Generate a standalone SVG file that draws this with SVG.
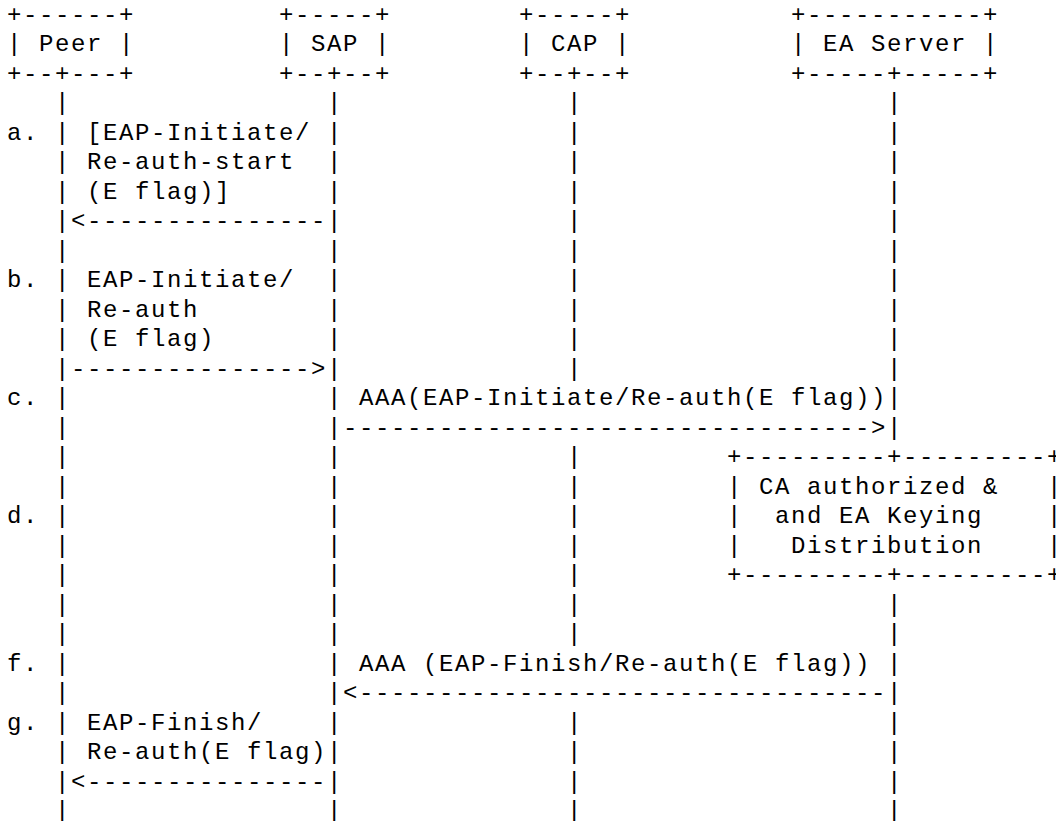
<svg xmlns="http://www.w3.org/2000/svg" width="1056" height="821" viewBox="0 0 1056 821" xml:space="preserve">
<style>
text { font-family: "Liberation Mono", "DejaVu Sans Mono", monospace; font-size: 24px; letter-spacing: 1.6px; fill: #000; white-space: pre; }
</style>
<rect x="0" y="0" width="1056" height="821" fill="#ffffff"/>
<g id="node-peer">
<text x="7" y="21.5">+------+</text>
<text x="7" y="51">| Peer |</text>
<text x="7" y="80.5">+--+---+</text>
</g>
<g id="node-sap">
<text x="279" y="21.5">+-----+</text>
<text x="279" y="51">| SAP |</text>
<text x="279" y="80.5">+--+--+</text>
</g>
<g id="node-cap">
<text x="519" y="21.5">+-----+</text>
<text x="519" y="51">| CAP |</text>
<text x="519" y="80.5">+--+--+</text>
</g>
<g id="node-ea-server">
<text x="791" y="21.5">+-----------+</text>
<text x="791" y="51">| EA Server |</text>
<text x="791" y="80.5">+-----+-----+</text>
</g>
<g id="node-ca-authorized">
<text x="727" y="464">+---------+---------+</text>
<text x="727" y="493.5">| CA authorized &amp;   |</text>
<text x="727" y="523">|  and EA Keying    |</text>
<text x="727" y="552.5">|   Distribution    |</text>
<text x="727" y="582">+---------+---------+</text>
</g>
<g id="connectors">
<text id="lifeline-peer" x="55 55 55 55 55 55 55 55 55 55 55 55 55 55 55 55 55 55 55 55 55 55 55 55 55" y="110 139.5 169 198.5 228 257.5 287 316.5 346 375.5 405 434.5 464 493.5 523 552.5 582 611.5 641 670.5 700 729.5 759 788.5 818">|||||||||||||||||||||||||</text>
<text id="lifeline-sap" x="327 327 327 327 327 327 327 327 327 327 327 327 327 327 327 327 327 327 327 327 327 327 327 327 327" y="110 139.5 169 198.5 228 257.5 287 316.5 346 375.5 405 434.5 464 493.5 523 552.5 582 611.5 641 670.5 700 729.5 759 788.5 818">|||||||||||||||||||||||||</text>
<text id="lifeline-cap" x="567 567 567 567 567 567 567 567 567 567 567 567 567 567 567 567 567 567 567 567 567" y="110 139.5 169 198.5 228 257.5 287 316.5 346 375.5 464 493.5 523 552.5 582 611.5 641 729.5 759 788.5 818">|||||||||||||||||||||</text>
<text id="lifeline-ea" x="887 887 887 887 887 887 887 887 887 887 887 887 887 887 887 887 887 887 887 887" y="110 139.5 169 198.5 228 257.5 287 316.5 346 375.5 405 434.5 611.5 641 670.5 700 729.5 759 788.5 818">||||||||||||||||||||</text>
<text id="arrow-a" x="71" y="228">&lt;---------------</text>
<text id="arrow-b" x="71" y="375.5">---------------&gt;</text>
<text id="arrow-c" x="343" y="434.5">---------------------------------&gt;</text>
<text id="arrow-f" x="343" y="700">&lt;---------------------------------</text>
<text id="arrow-g" x="71" y="788.5">&lt;---------------</text>
</g>
<g id="step-labels">
<text x="7" y="139.5">a.</text>
<text x="7" y="287">b.</text>
<text x="7" y="405">c.</text>
<text x="7" y="523">d.</text>
<text x="7" y="670.5">f.</text>
<text x="7" y="729.5">g.</text>
</g>
<g id="message-labels">
<text x="87" y="139.5">[EAP-Initiate/</text>
<text x="87" y="169">Re-auth-start</text>
<text x="87" y="198.5">(E flag)]</text>
<text x="87" y="287">EAP-Initiate/</text>
<text x="87" y="316.5">Re-auth</text>
<text x="87" y="346">(E flag)</text>
<text x="359" y="405">AAA(EAP-Initiate/Re-auth(E flag))</text>
<text x="359" y="670.5">AAA (EAP-Finish/Re-auth(E flag))</text>
<text x="87" y="729.5">EAP-Finish/</text>
<text x="87" y="759">Re-auth(E flag)</text>
</g>
</svg>
